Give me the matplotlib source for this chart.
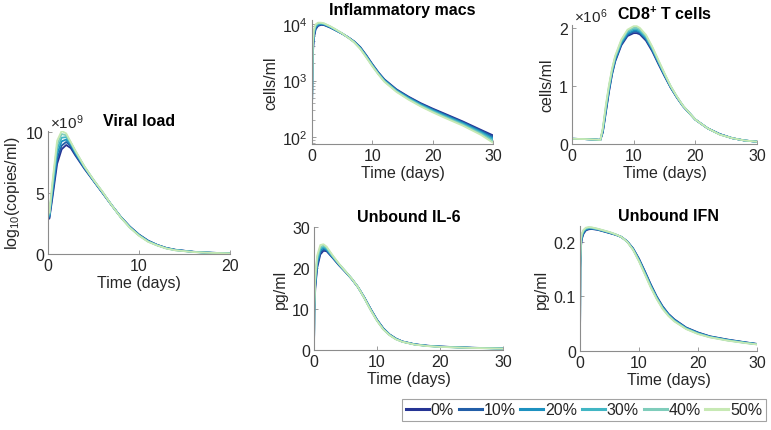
import matplotlib
matplotlib.use('Agg')
import matplotlib.pyplot as plt
from matplotlib.ticker import LogLocator, NullFormatter

plt.rcParams['font.family'] = ['Liberation Sans', 'DejaVu Sans']
plt.rcParams['mathtext.fontset'] = 'custom'
plt.rcParams['mathtext.rm'] = 'Liberation Sans'
plt.rcParams['mathtext.it'] = 'Liberation Sans:italic'
plt.rcParams['mathtext.bf'] = 'Liberation Sans:bold'

W, H = 771, 431
TXT = '#262626'
AX = '#8c8c8c'

labels = ['0%', '10%', '20%', '30%', '40%', '50%']
colors = ['#253494', '#225ea8', '#1d91c0', '#41b6c4', '#7fcdbb', '#c7e9b4']

# viral load (x1e9)
t_viral = [0, 0.15, 0.5, 1.0, 1.5, 2.0, 2.5, 3, 4, 5, 6, 7, 8, 9, 10, 11, 12, 13, 14, 16, 18, 20]
viral = [
    [3.4, 2.9, 4.7, 7.4, 8.6, 8.95, 8.7, 8.1, 7.0, 6.0, 5.0, 4.0, 3.05, 2.25, 1.6, 1.1, 0.75, 0.5, 0.35, 0.18, 0.1, 0.06],
    [3.6, 3.0, 5.0, 7.8, 8.9, 9.2, 8.85, 8.2, 7.05, 6.02, 5.02, 4.0, 3.04, 2.23, 1.58, 1.08, 0.74, 0.49, 0.34, 0.18, 0.1, 0.06],
    [3.8, 3.1, 5.25, 8.2, 9.25, 9.4, 9.0, 8.3, 7.1, 6.05, 5.04, 4.0, 3.03, 2.21, 1.56, 1.06, 0.73, 0.48, 0.33, 0.17, 0.1, 0.055],
    [4.0, 3.2, 5.5, 8.6, 9.55, 9.6, 9.1, 8.4, 7.15, 6.07, 5.06, 4.0, 3.02, 2.19, 1.54, 1.04, 0.72, 0.47, 0.32, 0.17, 0.09, 0.055],
    [4.2, 3.3, 5.75, 8.95, 9.85, 9.75, 9.15, 8.45, 7.18, 6.09, 5.08, 4.0, 3.01, 2.17, 1.52, 1.02, 0.71, 0.46, 0.31, 0.16, 0.09, 0.05],
    [4.4, 3.4, 6.0, 9.3, 10.1, 9.9, 9.2, 8.5, 7.2, 6.1, 5.1, 4.0, 3.0, 2.15, 1.5, 1.0, 0.7, 0.45, 0.3, 0.16, 0.09, 0.05],
]

# inflammatory macrophages
t_macs = [0, 0.1, 0.3, 0.6, 1.0, 1.5, 2, 3, 4, 5, 6, 7, 8, 9, 10, 11, 12, 14, 16, 18, 20, 22, 25, 28, 30]
macs = [
    [300, 2500, 5500, 8000, 9200, 9600, 9500, 8600, 7600, 6700, 5800, 4900, 3900, 2800, 1950, 1400, 1050, 700, 520, 400, 320, 260, 190, 135, 108],
    [300, 2800, 6000, 8400, 9450, 9800, 9650, 8700, 7650, 6720, 5780, 4860, 3840, 2750, 1915, 1375, 1030, 685, 508, 390, 311, 252, 184, 130, 102],
    [300, 3100, 6450, 8750, 9700, 10000, 9800, 8800, 7700, 6740, 5760, 4820, 3780, 2700, 1880, 1350, 1010, 670, 496, 380, 302, 244, 178, 125, 96],
    [300, 3400, 6900, 9100, 9950, 10150, 9950, 8900, 7750, 6760, 5740, 4780, 3720, 2650, 1850, 1325, 990, 658, 484, 370, 293, 236, 172, 120, 91],
    [300, 3700, 7350, 9450, 10250, 10350, 10100, 9000, 7850, 6780, 5720, 4740, 3660, 2600, 1815, 1300, 970, 644, 472, 360, 284, 228, 166, 115, 85],
    [300, 4000, 7800, 9800, 10500, 10500, 10200, 9100, 7900, 6800, 5700, 4700, 3600, 2550, 1780, 1280, 950, 630, 460, 350, 275, 220, 160, 110, 80],
]

# CD8+ T cells (x1e6)
t_cd8 = [0, 2, 4, 4.6, 5, 5.5, 6, 6.5, 7, 8, 9, 10, 10.5, 11, 12, 13, 14, 15, 16, 17, 18, 20, 22, 24, 26, 28, 30]
cd8 = [
    [0.09, 0.085, 0.075, 0.07, 0.2, 0.55, 0.9, 1.2, 1.42, 1.7, 1.86, 1.91, 1.91, 1.89, 1.78, 1.6, 1.38, 1.17, 0.97, 0.8, 0.65, 0.42, 0.27, 0.17, 0.1, 0.06, 0.04],
    [0.09, 0.085, 0.075, 0.07, 0.215, 0.575, 0.925, 1.22, 1.44, 1.72, 1.88, 1.935, 1.935, 1.91, 1.8, 1.62, 1.395, 1.18, 0.976, 0.804, 0.652, 0.42, 0.27, 0.168, 0.1, 0.06, 0.04],
    [0.09, 0.085, 0.075, 0.07, 0.23, 0.6, 0.95, 1.24, 1.46, 1.74, 1.90, 1.955, 1.955, 1.93, 1.82, 1.635, 1.41, 1.19, 0.982, 0.808, 0.654, 0.42, 0.27, 0.166, 0.1, 0.06, 0.04],
    [0.09, 0.085, 0.075, 0.07, 0.245, 0.625, 0.97, 1.26, 1.48, 1.76, 1.93, 1.98, 1.98, 1.95, 1.84, 1.65, 1.42, 1.2, 0.988, 0.812, 0.656, 0.42, 0.27, 0.164, 0.1, 0.06, 0.04],
    [0.09, 0.085, 0.075, 0.07, 0.26, 0.65, 0.995, 1.28, 1.5, 1.78, 1.95, 2.005, 2.005, 1.975, 1.86, 1.665, 1.435, 1.21, 0.994, 0.816, 0.658, 0.42, 0.27, 0.162, 0.1, 0.06, 0.04],
    [0.09, 0.085, 0.075, 0.07, 0.28, 0.68, 1.02, 1.3, 1.52, 1.8, 1.97, 2.03, 2.03, 2.0, 1.88, 1.68, 1.45, 1.22, 1.0, 0.82, 0.66, 0.42, 0.27, 0.16, 0.1, 0.06, 0.04],
]

# unbound IL-6
t_il6 = [0, 0.05, 0.2, 0.5, 1.0, 1.5, 2.0, 3, 4, 5, 6, 7, 8, 9, 10, 11, 12, 13, 14, 16, 18, 20, 25, 30]
il6 = [
    [0, 9, 15, 20, 23.3, 24.2, 24.1, 22.4, 20.6, 19.0, 17.3, 15.3, 12.8, 10.0, 7.4, 5.3, 3.8, 2.8, 2.1, 1.4, 1.05, 0.85, 0.55, 0.4],
    [0, 9.4, 15.6, 20.6, 23.8, 24.5, 24.3, 22.5, 20.7, 19.05, 17.32, 15.3, 12.76, 9.94, 7.34, 5.24, 3.76, 2.76, 2.08, 1.38, 1.03, 0.83, 0.54, 0.39],
    [0, 9.8, 16.2, 21.2, 24.2, 24.9, 24.5, 22.6, 20.8, 19.1, 17.34, 15.3, 12.72, 9.88, 7.28, 5.18, 3.72, 2.72, 2.06, 1.36, 1.01, 0.81, 0.53, 0.38],
    [0, 10.2, 16.8, 21.8, 24.7, 25.2, 24.7, 22.7, 20.85, 19.15, 17.36, 15.3, 12.68, 9.82, 7.22, 5.12, 3.68, 2.68, 2.04, 1.34, 0.99, 0.79, 0.52, 0.37],
    [0, 10.6, 17.4, 22.4, 25.1, 25.5, 25.0, 22.85, 20.9, 19.18, 17.38, 15.3, 12.64, 9.76, 7.16, 5.06, 3.64, 2.64, 2.02, 1.32, 0.97, 0.77, 0.51, 0.36],
    [0, 11, 18, 23, 25.6, 25.8, 25.2, 23.0, 21.0, 19.2, 17.4, 15.3, 12.6, 9.7, 7.1, 5.0, 3.6, 2.6, 2.0, 1.3, 0.95, 0.75, 0.5, 0.35],
]

# unbound IFN
t_ifn = [0, 0.05, 0.15, 0.3, 0.6, 1.0, 1.5, 2, 3, 4, 5, 6, 7, 8, 9, 10, 11, 12, 13, 14, 15, 16, 18, 20, 22, 25, 28, 30]
ifn = [
    [0, 0.15, 0.19, 0.205, 0.215, 0.221, 0.223, 0.2235, 0.222, 0.219, 0.216, 0.213, 0.209, 0.201, 0.188, 0.169, 0.146, 0.122, 0.1, 0.082, 0.068, 0.058, 0.043, 0.034, 0.027, 0.021, 0.016, 0.013],
    [0, 0.154, 0.193, 0.207, 0.2165, 0.222, 0.224, 0.2241, 0.2224, 0.2194, 0.2164, 0.2132, 0.209, 0.2008, 0.1874, 0.168, 0.1448, 0.1208, 0.099, 0.081, 0.0672, 0.0572, 0.0424, 0.0334, 0.0266, 0.0206, 0.0157, 0.0128],
    [0, 0.158, 0.196, 0.209, 0.218, 0.223, 0.2248, 0.2247, 0.2228, 0.2198, 0.2168, 0.2134, 0.209, 0.2006, 0.1868, 0.167, 0.1436, 0.1196, 0.098, 0.080, 0.0664, 0.0564, 0.0418, 0.0328, 0.0262, 0.0202, 0.0154, 0.0126],
    [0, 0.162, 0.199, 0.211, 0.2195, 0.224, 0.2256, 0.2253, 0.2232, 0.2202, 0.2172, 0.2136, 0.209, 0.2004, 0.1862, 0.166, 0.1424, 0.1184, 0.097, 0.079, 0.0656, 0.0556, 0.0412, 0.0322, 0.0258, 0.0198, 0.0151, 0.0124],
    [0, 0.166, 0.202, 0.213, 0.221, 0.225, 0.2263, 0.2259, 0.2236, 0.2206, 0.2176, 0.2138, 0.209, 0.2002, 0.1856, 0.165, 0.1412, 0.1172, 0.096, 0.078, 0.0648, 0.0548, 0.0406, 0.0316, 0.0254, 0.0194, 0.0148, 0.0122],
    [0, 0.17, 0.205, 0.215, 0.222, 0.226, 0.227, 0.2265, 0.224, 0.221, 0.218, 0.214, 0.209, 0.2, 0.185, 0.164, 0.14, 0.116, 0.095, 0.077, 0.064, 0.054, 0.04, 0.031, 0.025, 0.019, 0.0145, 0.012],
]


def px(l, t, r, b):
    # pixel box -> figure fraction
    return [l / W, 1 - b / H, (r - l) / W, (b - t) / H]


def style(ax, title, ylabel):
    for s in ['top', 'right']:
        ax.spines[s].set_visible(False)
    for s in ['left', 'bottom']:
        ax.spines[s].set_color(AX)
        ax.spines[s].set_linewidth(0.8)
    ax.tick_params(direction='in', length=3, width=0.6, color=AX,
                   labelsize=11.5, labelcolor=TXT, pad=3)
    ax.tick_params(which='minor', direction='in', length=1.8, width=0.5, color=AX)
    ax.set_title(title, fontsize=11.5, fontweight='bold', color='black', pad=4)
    ax.set_ylabel(ylabel, fontsize=11.5, color=TXT, labelpad=3)
    ax.set_xlabel('Time (days)', fontsize=11.5, color=TXT, labelpad=1)


def draw(ax, t, series):
    lines = []
    for ys, c, lab in zip(series, colors, labels):
        ln, = ax.plot(t, ys, color=c, lw=1.3, label=lab)
        lines.append(ln)
    return lines


fig = plt.figure(figsize=(W / 100, H / 100), dpi=100)

ax1 = fig.add_axes(px(48, 132, 230, 255))
lines = draw(ax1, t_viral, viral)
ax1.set_xlim(0, 20)
ax1.set_ylim(0, 10.1)
ax1.set_xticks([0, 10, 20])
ax1.set_yticks([0, 5, 10])
style(ax1, 'Viral load', r'log$_{10}$(copies/ml)')
ax1.text(0.01, 1.0, r'$\times$10$^9$', transform=ax1.transAxes, ha='left', va='bottom',
         fontsize=11, color=TXT)

ax2 = fig.add_axes(px(312, 21, 493, 145))
draw(ax2, t_macs, macs)
ax2.set_yscale('log')
ax2.set_xlim(0, 30)
ax2.set_ylim(76, 11700)
ax2.set_xticks([0, 10, 20, 30])
ax2.yaxis.set_major_locator(LogLocator(base=10, numticks=5))
ax2.yaxis.set_minor_locator(LogLocator(base=10, subs=range(2, 10), numticks=20))
ax2.yaxis.set_minor_formatter(NullFormatter())
style(ax2, 'Inflammatory macs', 'cells/ml')

ax3 = fig.add_axes(px(572, 26, 757, 145))
draw(ax3, t_cd8, cd8)
ax3.set_xlim(0, 30)
ax3.set_ylim(0, 2.05)
ax3.set_xticks([0, 10, 20, 30])
ax3.set_yticks([0, 1, 2])
style(ax3, r'CD8$^{\mathbf{+}}$ T cells', 'cells/ml')
ax3.text(0.01, 1.0, r'$\times$10$^6$', transform=ax3.transAxes, ha='left', va='bottom',
         fontsize=11, color=TXT)

ax4 = fig.add_axes(px(314, 228, 503, 351))
draw(ax4, t_il6, il6)
ax4.set_xlim(0, 30)
ax4.set_ylim(0, 30)
ax4.set_xticks([0, 10, 20, 30])
ax4.set_yticks([0, 10, 20, 30])
style(ax4, 'Unbound IL-6', 'pg/ml')

ax5 = fig.add_axes(px(580, 227, 757, 352))
draw(ax5, t_ifn, ifn)
ax5.set_xlim(0, 30)
ax5.set_ylim(0, 0.229)
ax5.set_xticks([0, 10, 20, 30])
ax5.set_yticks([0, 0.1, 0.2])
ax5.set_yticklabels(['0', '0.1', '0.2'])
style(ax5, 'Unbound IFN', 'pg/ml')

leg = fig.legend(lines, labels, loc='center', ncol=6,
                 bbox_to_anchor=((401 + 767) / 2 / W, 1 - 411 / H),
                 fontsize=11.5, frameon=True, fancybox=False,
                 handlelength=1.45, handletextpad=0.1, columnspacing=0.3,
                 borderpad=0.25, borderaxespad=0)
leg.get_frame().set_edgecolor('#8c8c8c')
leg.get_frame().set_linewidth(0.8)
for ln in leg.get_lines():
    ln.set_linewidth(2.2)
for tx in leg.get_texts():
    tx.set_color(TXT)

fig.savefig('out.png', dpi=100)
